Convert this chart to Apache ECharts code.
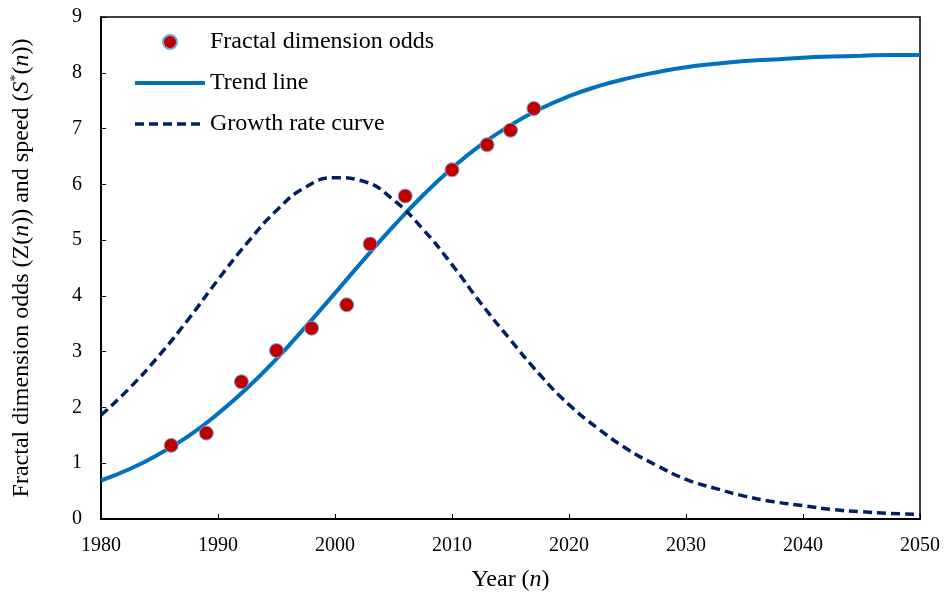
<!DOCTYPE html>
<html>
<head>
<meta charset="utf-8">
<script src="https://cdn.jsdelivr.net/npm/echarts@6/dist/echarts.min.js"></script>
<style>html,body{margin:0;padding:0;background:#fff;}#c{width:945px;height:592px;}</style>
</head>
<body>
<div id="c"></div>
<script>
// Observed fractal dimension odds
const obsYears = [1986, 1989, 1992, 1995, 1998, 2001, 2003, 2006, 2010, 2013, 2015, 2017];
const obsValues = [1.32, 1.54, 2.46, 3.02, 3.42, 3.84, 4.93, 5.79, 6.26, 6.71, 6.97, 7.36];
// Curves
const curveYears = [1980, 1982.5, 1985, 1987.5, 1990, 1992.5, 1995, 1997.5, 2000, 2002.5, 2005, 2007.5, 2010, 2012.5, 2015, 2017.5, 2020, 2022.5, 2025, 2027.5, 2030, 2032.5, 2035, 2037.5, 2040, 2042.5, 2045, 2047.5, 2050];
const trendValues = [0.69, 0.90, 1.17, 1.49, 1.89, 2.35, 2.87, 3.45, 4.05, 4.66, 5.25, 5.80, 6.29, 6.71, 7.06, 7.35, 7.58, 7.76, 7.90, 8.01, 8.10, 8.16, 8.21, 8.24, 8.27, 8.29, 8.305, 8.32, 8.32];
const growthValues = [1.86, 2.36, 2.94, 3.59, 4.29, 4.95, 5.53, 5.95, 6.12, 6.05, 5.72, 5.20, 4.56, 3.86, 3.21, 2.59, 2.05, 1.62, 1.25, 0.96, 0.71, 0.55, 0.41, 0.31, 0.24, 0.17, 0.13, 0.10, 0.08];
const xTicks = {min: 1980, max: 2050, interval: 10};
const yTicks = {min: 0, max: 9, interval: 1};
const seriesNames = ['Fractal dimension odds', 'Trend line', 'Growth rate curve'];

const pair = (xs, ys) => xs.map((x, i) => [x, ys[i]]);
const FONT = 'Liberation Serif';
const TREND_STYLE = {color: '#0070C0', width: 4};
const GROWTH_STYLE = {color: '#002060', width: 3.5, type: [9, 5]};

const chart = echarts.init(document.getElementById('c'), null, {renderer: 'canvas'});
chart.setOption({
  backgroundColor: '#fff',
  animation: false,
  textStyle: {fontFamily: FONT, color: '#000'},
  grid: {left: 101, right: 25, top: 17, bottom: 73, show: true, borderColor: '#000', borderWidth: 1.5, containLabel: false, outerBoundsMode: 'none'},
  legend: {
    data: [
      {name: seriesNames[0]},
      {name: seriesNames[1], itemStyle: {opacity: 0, color: 'transparent', borderWidth: 0}, lineStyle: {color: TREND_STYLE.color, width: 4, type: 'solid', opacity: 1}},
      {name: seriesNames[2], itemStyle: {opacity: 0, color: 'transparent', borderWidth: 0}, lineStyle: {color: GROWTH_STYLE.color, width: 3.5, type: [9, 5], opacity: 1}}
    ],
    orient: 'vertical',
    left: 133,
    top: 29,
    padding: 0,
    itemWidth: 70,
    itemHeight: 14,
    itemGap: 15,
    textStyle: {fontFamily: FONT, fontSize: 24, color: '#000', lineHeight: 26}
  },
  xAxis: {
    type: 'value',
    min: xTicks.min, max: xTicks.max, interval: xTicks.interval,
    name: '{r|Year (}{i|n}{r|)}',
    nameLocation: 'middle',
    nameGap: 49,
    nameTextStyle: {
      rich: {
        r: {fontFamily: FONT, fontSize: 24, color: '#000'},
        i: {fontFamily: FONT, fontSize: 24, color: '#000', fontStyle: 'italic'}
      }
    },
    axisLine: {show: true, lineStyle: {color: '#000', width: 2}},
    axisTick: {show: true, inside: true, length: 5, lineStyle: {color: '#000', width: 1}},
    axisLabel: {fontFamily: FONT, fontSize: 20, color: '#000', margin: 17, formatter: v => String(v)},
    splitLine: {show: false}
  },
  yAxis: {
    type: 'value',
    min: yTicks.min, max: yTicks.max, interval: yTicks.interval,
    name: '{r|Fractal dimension odds (Z(}{i|n}{r|)) and speed (}{i|S}{sup|*}{r|(}{i|n}{r|))}',
    nameLocation: 'middle',
    nameGap: 66,
    nameTextStyle: {
      rich: {
        r: {fontFamily: FONT, fontSize: 24, color: '#000', lineHeight: 26},
        i: {fontFamily: FONT, fontSize: 24, color: '#000', fontStyle: 'italic', lineHeight: 26},
        sup: {fontFamily: FONT, fontSize: 14, color: '#000', verticalAlign: 'top', lineHeight: 14}
      }
    },
    axisLine: {show: true, lineStyle: {color: '#000', width: 2}},
    axisTick: {show: true, inside: true, length: 5, lineStyle: {color: '#000', width: 1}},
    axisLabel: {fontFamily: FONT, fontSize: 20, color: '#000', margin: 19},
    splitLine: {show: false}
  },
  series: [
    {
      name: seriesNames[1],
      type: 'line',
      data: pair(curveYears, trendValues),
      smooth: true,
      symbol: 'none',
      z: 2,
      lineStyle: TREND_STYLE,
      itemStyle: {color: TREND_STYLE.color}
    },
    {
      name: seriesNames[2],
      type: 'line',
      data: pair(curveYears, growthValues),
      smooth: true,
      symbol: 'none',
      z: 3,
      lineStyle: GROWTH_STYLE,
      itemStyle: {color: GROWTH_STYLE.color}
    },
    {
      name: seriesNames[0],
      type: 'scatter',
      data: pair(obsYears, obsValues),
      symbol: 'circle',
      symbolSize: 14,
      z: 4,
      itemStyle: {color: '#C00000', borderColor: '#6FA8DC', borderWidth: 1, opacity: 1}
    }
  ]
});
</script>
</body>
</html>
